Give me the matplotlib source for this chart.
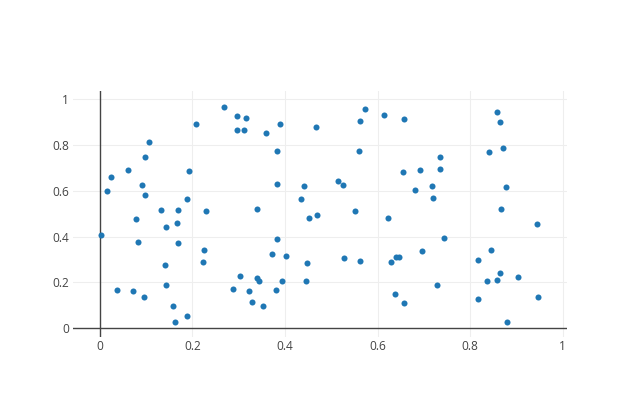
import matplotlib
matplotlib.use("Agg")
import matplotlib.pyplot as plt

# --- data ---
x_vals = [
    0.268, 0.296, 0.297, 0.209, 0.106, 0.098, 0.061, 0.192, 0.024, 0.016,
    0.091, 0.098, 0.188, 0.132, 0.169, 0.230, 0.078, 0.143, 0.168, 0.002,
    0.082, 0.170, 0.225, 0.223, 0.142, 0.303, 0.144, 0.038, 0.072, 0.095,
    0.288, 0.158, 0.189, 0.162, 0.317, 0.312, 0.360, 0.389, 0.467, 0.572,
    0.613, 0.562, 0.384, 0.559, 0.384, 0.442, 0.514, 0.525, 0.434, 0.340,
    0.551, 0.451, 0.469, 0.623, 0.383, 0.372, 0.403, 0.448, 0.528, 0.562,
    0.629, 0.641, 0.646, 0.340, 0.343, 0.394, 0.446, 0.322, 0.381, 0.330,
    0.352, 0.637, 0.658, 0.858, 0.864, 0.870, 0.841, 0.734, 0.654, 0.692,
    0.736, 0.718, 0.680, 0.719, 0.878, 0.867, 0.944, 0.743, 0.696, 0.846,
    0.816, 0.864, 0.837, 0.857, 0.903, 0.728, 0.657, 0.818, 0.947, 0.879,
]
y_vals = [
    0.967, 0.927, 0.865, 0.891, 0.811, 0.746, 0.690, 0.686, 0.660, 0.600,
    0.626, 0.583, 0.565, 0.516, 0.515, 0.513, 0.478, 0.443, 0.459, 0.408,
    0.376, 0.372, 0.343, 0.290, 0.275, 0.229, 0.189, 0.166, 0.161, 0.138,
    0.171, 0.099, 0.054, 0.027, 0.918, 0.866, 0.852, 0.891, 0.878, 0.958,
    0.932, 0.903, 0.773, 0.775, 0.631, 0.621, 0.644, 0.625, 0.563, 0.519,
    0.513, 0.482, 0.493, 0.481, 0.388, 0.324, 0.315, 0.283, 0.305, 0.295,
    0.291, 0.311, 0.311, 0.219, 0.205, 0.208, 0.205, 0.161, 0.167, 0.116,
    0.096, 0.150, 0.911, 0.943, 0.898, 0.786, 0.767, 0.747, 0.683, 0.690,
    0.693, 0.619, 0.602, 0.567, 0.616, 0.522, 0.455, 0.395, 0.336, 0.343,
    0.299, 0.243, 0.206, 0.211, 0.222, 0.188, 0.112, 0.126, 0.138, 0.027,
]
tick_vals = [0, 0.2, 0.4, 0.6, 0.8, 1]
tick_labels = ["0", "0.2", "0.4", "0.6", "0.8", "1"]

# --- figure setup ---
fig = plt.figure(figsize=(6.4, 4.11), dpi=100)
ax = fig.add_axes([72.7 / 640, 74.3 / 411, 494 / 640, 245.7 / 411])

ax.set_xlim(-0.0583, 1.0086)
ax.set_ylim(-0.0366, 1.0349)

for s in ax.spines.values():
    s.set_visible(False)

# light grid, dark zero lines (plotly-like)
for v in tick_vals[1:]:
    ax.axvline(v, color="#eeeeee", lw=0.8, zorder=0)
    ax.axhline(v, color="#eeeeee", lw=0.8, zorder=0)
ax.axvline(0, color="#444444", lw=1.0, zorder=1)
ax.axhline(0, color="#444444", lw=1.0, zorder=1)

ax.scatter(x_vals, y_vals, s=19, color="#1f77b4", linewidths=0, zorder=3)

ax.set_xticks(tick_vals)
ax.set_xticklabels(tick_labels)
ax.set_yticks(tick_vals)
ax.set_yticklabels(tick_labels)
ax.tick_params(axis="both", length=0, labelsize=8.6, labelcolor="#444444")
ax.tick_params(axis="x", pad=2.5)
ax.tick_params(axis="y", pad=2.5)
for lbl in ax.get_xticklabels() + ax.get_yticklabels():
    lbl.set_fontfamily("Open Sans")

fig.savefig("out.png", dpi=100, facecolor="white")
